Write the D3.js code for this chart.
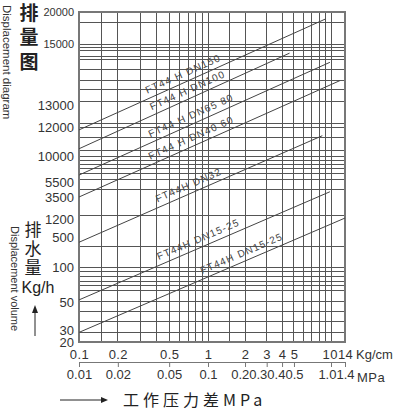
<!DOCTYPE html>
<html>
<head>
<meta charset="utf-8">
<script src="https://cdn.jsdelivr.net/npm/d3@7"></script>
<style>
  body { margin: 0; background: #fff; }
  text { font-family: 'Liberation Sans', Arial, sans-serif; fill: #333; }
  .cjk { font-family: 'Noto Sans CJK SC', sans-serif; }
</style>
</head>
<body>
<svg id="chart" width="398" height="419"></svg>
<script>
// displacement labels on the left, Kg/h (the printed scale is not uniform)
const yTicks = [20, 30, 50, 100, 500, 1200, 3500, 5500, 10000, 12000, 13000, 15000, 20000]
// horizontal rules, Kg/h
const yGrid = [18400, 15000, 14900, 14800, 14600, 14500, 14150, 13800, 13500, 13100, 12150, 12000,
  11300, 10350, 10000, 9300, 8600, 7900, 7050, 6000, 4450, 1600, 380, 100, 93, 87, 80, 73, 66, 51,
  43, 36, 28]
// working pressure difference, Kg/cm
const xTicks = [0.1, 0.2, 0.5, 1, 2, 3, 4, 5, 10, 14]
const mpaLabels = ['0.01', '0.02', '0.05', '0.1', '0.2', '0.3', '0.4', '0.5', '1.0', '1.4']
const xGrid = [0.15, 0.2, 0.3, 0.4, 0.5, 0.6, 0.7, 0.8, 0.9, 1, 1.5, 2, 3, 4, 5, 6, 7, 8, 9, 10]

// one straight line per trap model
const models = ['FT44 H DN150', 'FT44 H DN100', 'FT44 H DN65 80', 'FT44 H DN40 60',
  'FT44H DN32', 'FT44H DN15-25', 'FT44H DN15-25']
const startPressure = [0.1, 0.1, 0.1, 0.1, 0.1, 0.1, 0.1]
const startFlow = [11800, 10500, 6700, 3500, 430, 53, 28]
const endPressure = [9, 4.6, 9.8, 12.4, 8.5, 9.8, 14]
const endFlow = [18900, 14700, 14400, 13800, 11400, 4200, 1300]
const labelPressure = [0.35, 0.38, 0.37, 0.37, 0.42, 0.43, 0.93]

const svg = d3.select('#chart')
const plotLeft = 79
const plotRight = 345
const plotTop = 12
const plotBottom = 342

const x = d3.scaleLog()
  .domain([0.1, 1, 10, 14])
  .range([plotLeft, 208, 331, plotRight])

// the printed displacement axis is piecewise, so map each label to where it sits
const y = d3.scaleLinear()
  .domain(yTicks)
  .range([plotBottom, 330, 302, 267, 237, 219, 197, 182, 156, 127, 105, 44, plotTop])

/**
 * Draws the grid and the frame of the plot.
 */
function drawGrid () {
  const g = svg.append('g')
    .attr('stroke', '#555')
    .attr('stroke-width', 1)
    .attr('shape-rendering', 'crispEdges')

  g.selectAll('.h')
    .data(yGrid)
    .join('line')
    .attr('class', 'h')
    .attr('x1', plotLeft)
    .attr('x2', plotRight)
    .attr('y1', d => y(d))
    .attr('y2', d => y(d))

  g.selectAll('.v')
    .data(xGrid)
    .join('line')
    .attr('class', 'v')
    .attr('x1', d => x(d))
    .attr('x2', d => x(d))
    .attr('y1', plotTop)
    .attr('y2', plotBottom)

  svg.append('rect')
    .attr('x', plotLeft)
    .attr('y', plotTop)
    .attr('width', plotRight - plotLeft)
    .attr('height', plotBottom - plotTop)
    .attr('fill', 'none')
    .attr('stroke', '#777')
    .attr('stroke-width', 1.5)
    .attr('shape-rendering', 'crispEdges')
}

/**
 * Draws the model lines and their slanted names.
 */
function drawModels () {
  const line = d3.line().x(d => x(d[0])).y(d => y(d[1]))

  models.forEach((name, i) => {
    const pts = [[startPressure[i], startFlow[i]], [endPressure[i], endFlow[i]]]
    svg.append('path')
      .attr('d', line(pts))
      .attr('fill', 'none')
      .attr('stroke', '#444')
      .attr('stroke-width', 1)

    const x0 = x(pts[0][0])
    const y0 = y(pts[0][1])
    const x1 = x(pts[1][0])
    const y1 = y(pts[1][1])
    const angle = Math.atan2(y1 - y0, x1 - x0) * 180 / Math.PI
    const lx = x(labelPressure[i])
    const ly = y0 + (lx - x0) / (x1 - x0) * (y1 - y0)

    svg.append('text')
      .attr('transform', 'translate(' + lx + ',' + ly + ') rotate(' + angle + ')')
      .attr('dy', -5)
      .attr('font-size', 10)
      .attr('letter-spacing', 1.2)
      .style('fill', '#444')
      .text(name)
  })
}

/**
 * Slides crowded tick labels to the left so that they do not run into each other.
 *
 * @param {*} axisG The axis group holding the ticks
 */
function packTicks (axisG) {
  const ticks = axisG.selectAll('.tick').nodes()
  let limit = Infinity
  for (let i = ticks.length - 1; i >= 0; i--) {
    const tx = x(d3.select(ticks[i]).datum())
    const text = d3.select(ticks[i]).select('text')
    const box = text.node().getBBox()
    const shift = Math.min(0, limit - (tx + box.x + box.width))
    text.attr('dx', shift)
    limit = tx + box.x + shift
  }
}

/**
 * Draws both axes: displacement on the left, pressure below.
 */
function drawAxes () {
  const yAxis = svg.append('g')
    .attr('transform', 'translate(' + plotLeft + ',0)')
    .call(d3.axisLeft(y).tickValues(yTicks).tickSize(0).tickPadding(5).tickFormat(d3.format('d')))
  yAxis.select('.domain').remove()
  yAxis.selectAll('text')
    .attr('font-size', d => d >= 15000 ? 11 : 13)
    .attr('font-family', null)
    .style('fill', '#333')

  const axisY = 362
  const kg = svg.append('g')
    .attr('transform', 'translate(0,' + axisY + ')')
    .call(d3.axisTop(x).tickValues(xTicks).tickSize(0).tickPadding(3).tickFormat(d => String(d)))
  kg.select('.domain').remove()
  kg.selectAll('text').attr('font-size', 13).attr('font-family', null).attr('letter-spacing', 0.4)
  packTicks(kg)

  const mpa = svg.append('g')
    .attr('transform', 'translate(0,' + axisY + ')')
    .call(d3.axisBottom(x).tickValues(xTicks).tickSize(5).tickSizeOuter(0).tickPadding(3)
      .tickFormat((d, i) => mpaLabels[i]))
  mpa.select('.domain').attr('stroke', '#777')
  mpa.selectAll('line').attr('stroke', '#777')
  mpa.selectAll('text').attr('font-size', 13).attr('font-family', null)
  packTicks(mpa)

  svg.append('text')
    .attr('x', 356)
    .attr('y', axisY - 3)
    .attr('font-size', 13)
    .text('Kg/cm')

  svg.append('text')
    .attr('x', 357)
    .attr('y', axisY + 20)
    .attr('font-size', 13)
    .attr('letter-spacing', 0.5)
    .text('MPa')
}

/**
 * Draws the titles around the plot.
 */
function drawTitles () {
  // stacked Chinese titles are written top to bottom
  svg.append('text')
    .attr('class', 'cjk')
    .attr('x', 29)
    .attr('y', 3)
    .style('writing-mode', 'vertical-rl')
    .attr('font-size', 19)
    .attr('font-weight', 'bold')
    .attr('letter-spacing', 5.5)
    .style('fill', '#222')
    .text('排量图')

  svg.append('text')
    .attr('transform', 'translate(3,5) rotate(90)')
    .attr('font-size', 11.5)
    .text('Displacement diagram')

  svg.append('text')
    .attr('class', 'cjk')
    .attr('x', 33)
    .attr('y', 221.5)
    .style('writing-mode', 'vertical-rl')
    .attr('font-size', 17)
    .attr('letter-spacing', 2)
    .style('fill', '#222')
    .text('排水量')

  svg.append('text')
    .attr('x', 38)
    .attr('y', 293)
    .attr('text-anchor', 'middle')
    .attr('font-size', 16)
    .style('fill', '#222')
    .text('Kg/h')

  svg.append('text')
    .attr('transform', 'translate(11,226) rotate(90)')
    .attr('font-size', 11)
    .text('Displacement volume')

  // upward arrow under Kg/h
  svg.append('line')
    .attr('x1', 35).attr('x2', 35)
    .attr('y1', 336).attr('y2', 312)
    .attr('stroke', '#222').attr('stroke-width', 1)
  svg.append('path')
    .attr('d', 'M32,313 L35,305 L38,313 Z')
    .attr('fill', '#222')

  // arrow before the pressure title
  svg.append('line')
    .attr('x1', 60).attr('x2', 103)
    .attr('y1', 400).attr('y2', 400)
    .attr('stroke', '#222').attr('stroke-width', 1)
  svg.append('path')
    .attr('d', 'M101,397 L108,400 L101,403 Z')
    .attr('fill', '#222')

  svg.append('text')
    .attr('class', 'cjk')
    .attr('x', 123)
    .attr('y', 406)
    .attr('font-size', 16)
    .attr('letter-spacing', 4)
    .style('fill', '#222')
    .text('工作压力差MPa')
}

drawGrid()
drawModels()
drawAxes()
drawTitles()
</script>
</body>
</html>
